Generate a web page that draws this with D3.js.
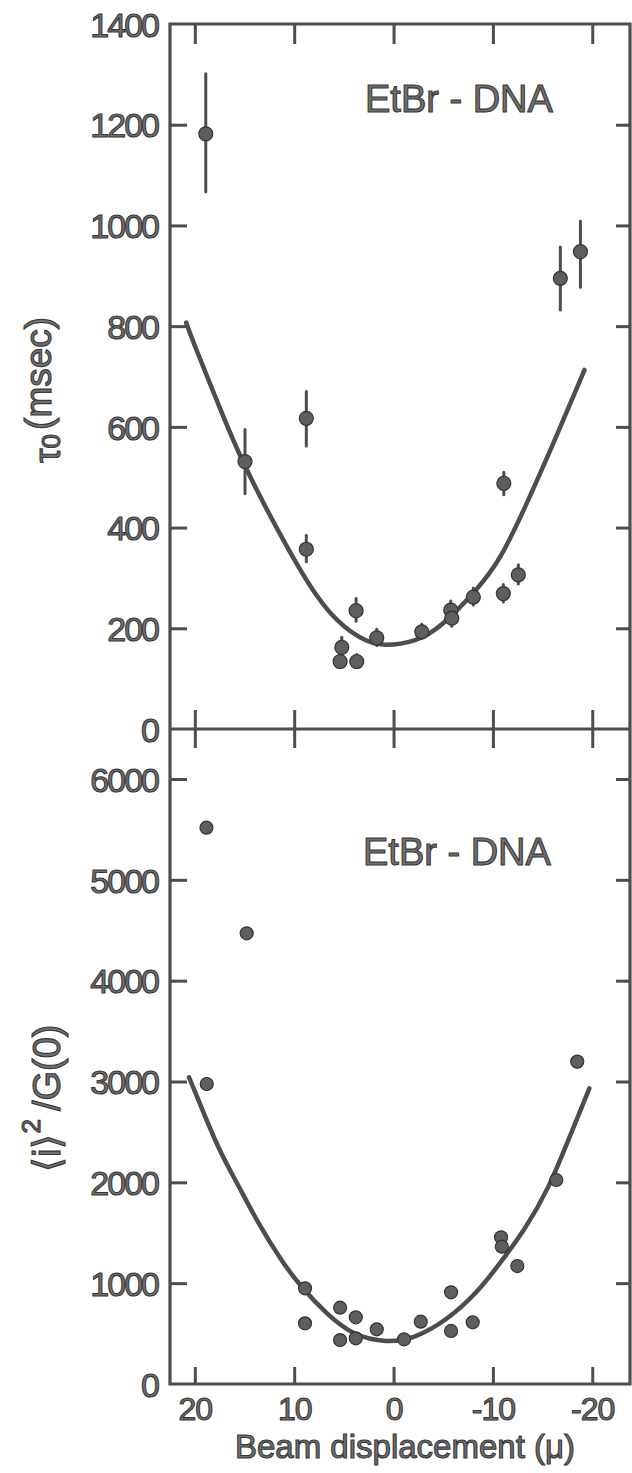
<!DOCTYPE html>
<html><head><meta charset="utf-8">
<script src="https://cdn.jsdelivr.net/npm/d3@7/dist/d3.min.js"></script>
<style>
html,body{margin:0;padding:0;background:#fff;}
svg{display:block;}
.lbl{font-family:"Liberation Sans",Arial,sans-serif;fill:#707070;stroke:#383838;stroke-width:1.1px;}
</style></head>
<body>
<svg id="chart" width="632" height="1473"></svg>
<script>
// ---- data ----
const xTicks = [20, 10, 0, -10, -20];
const xTickLabels = ["20", "10", "0", "-10", "-20"];
const yTopTicks = [200, 400, 600, 800, 1000, 1200];
const yTopLabels = [0, 200, 400, 600, 800, 1000, 1200, 1400];
const yBotTicks = [1000, 2000, 3000, 4000, 5000, 6000];
const yBotLabels = [0, 1000, 2000, 3000, 4000, 5000, 6000];

// top panel: tau_0 (msec) with error bars
const tauX  = [18.9, 14.95, 8.78, 8.78, 3.77, 5.21, 5.38, 3.70, 1.69, -2.84, -5.76, -5.86, -8.03, -11.1, -11.05, -12.56, -16.79, -18.81];
const tauY  = [1182, 531, 617, 357, 235, 162, 134, 134, 181, 193, 236, 220, 262, 488, 269, 306, 895, 948];
const tauLo = [1067, 467, 562, 332, 214, 145, 122, 122, 166, 180, 218, 204, 246, 465, 252, 288, 832, 877];
const tauHi = [1301, 595, 670, 385, 259, 182, 148, 148, 198, 208, 254, 238, 280, 510, 287, 326, 957, 1009];

// top fitted curve
const tauFitX = [20.87, 20.2, 17.80, 15.78, 12.76, 11.09, 9.41, 7.73, 5.72, 3.04, 1.03, -2.34, -4.68, -8.71, -10.72, -13.14, -16.38, -19.22];
const tauFitY = [807, 770, 653, 554, 435, 375, 316, 263, 213, 175, 164, 174, 200, 283, 336, 435, 580, 713];

// bottom panel: <i>^2/G(0)
const iX = [18.83, 14.78, -18.49, 18.80, 8.91, 8.91, 5.38, 5.38, 3.80, 3.80, 1.69, -1.06, -2.74, -5.79, -5.79, -7.97, -10.82, -10.90, -12.46, -16.38];
const iY = [5517, 4470, 3197, 2975, 949, 602, 757, 436, 661, 453, 542, 443, 618, 909, 526, 612, 1455, 1362, 1170, 2023];

// bottom fitted curve
const iFitX = [20.58, 19.9, 17.6, 15.78, 13.64, 11.21, 9.41, 6.72, 4.05, 0.68, -1.99, -5.35, -8.37, -10.72, -13.2, -15.57, -18.0, -19.71];
const iFitY = [3042, 2880, 2320, 2000, 1594, 1210, 975, 690, 480, 410, 445, 630, 900, 1197, 1530, 1924, 2519, 2932];

// ---- layout ----
const L = 170, R = 630, T = 24, M = 729, B = 1384;
const ink = "#4d4d4d";

const svg = d3.select("#chart");
const x = d3.scaleLinear().domain([22.5, -23.8]).range([L, R]);
const yT = d3.scaleLinear().domain([0, 1400]).range([M, T]);
const yB = d3.scaleLinear().domain([0, 6000]).range([B, 779]);

function styleAxis(g){
  g.select(".domain").remove();
  g.selectAll(".tick line").attr("stroke", ink).attr("stroke-width", 3);
}

// frame
svg.append("path")
  .attr("d", `M${L},${T}H${R}V${B}H${L}Z M${L},${M}H${R}`)
  .attr("fill", "none").attr("stroke", ink).attr("stroke-width", 3.2);

// x ticks: top (inward), middle (both sides), bottom (inward)
svg.append("g").attr("transform", `translate(0,${T})`)
  .call(d3.axisBottom(x).tickValues(xTicks).tickSize(20).tickFormat("")).call(styleAxis);
svg.append("g").attr("transform", `translate(0,${M})`)
  .call(d3.axisBottom(x).tickValues(xTicks).tickSize(19).tickFormat("")).call(styleAxis);
svg.append("g").attr("transform", `translate(0,${M})`)
  .call(d3.axisTop(x).tickValues(xTicks).tickSize(19).tickFormat("")).call(styleAxis);
svg.append("g").attr("transform", `translate(0,${B})`)
  .call(d3.axisTop(x).tickValues(xTicks).tickSize(17).tickFormat("")).call(styleAxis);

// y ticks inward on left & right
[[yT, yTopTicks], [yB, yBotTicks]].forEach(([sc, tv]) => {
  svg.append("g").attr("transform", `translate(${L},0)`)
    .call(d3.axisRight(sc).tickValues(tv).tickSize(17).tickFormat("")).call(styleAxis);
  svg.append("g").attr("transform", `translate(${R},0)`)
    .call(d3.axisLeft(sc).tickValues(tv).tickSize(14).tickFormat("")).call(styleAxis);
});

// y tick labels
function labelAxis(sc, vals){
  const g = svg.append("g").attr("transform", `translate(${L},0)`)
    .call(d3.axisLeft(sc).tickValues(vals).tickSize(0).tickPadding(12).tickFormat(d3.format("d")));
  g.select(".domain").remove();
  g.selectAll(".tick text").attr("class", "lbl").attr("font-size", 34)
    .attr("letter-spacing", "-2px").attr("dy", "0.36em");
}
labelAxis(yT, yTopLabels);
labelAxis(yB, yBotLabels);

// x tick labels
const gx = svg.append("g").attr("transform", `translate(0,${B})`)
  .call(d3.axisBottom(x).tickValues(xTicks).tickSize(0).tickPadding(13)
    .tickFormat((d, i) => xTickLabels[i]));
gx.select(".domain").remove();
gx.selectAll(".tick text").attr("class", "lbl").attr("font-size", 32).attr("letter-spacing", "-1px");

// fitted curves
const line = (sc) => d3.line().x(d => x(d[0])).y(d => sc(d[1])).curve(d3.curveBasis);
svg.append("path").datum(tauFitX.map((v, i) => [v, tauFitY[i]]))
  .attr("d", line(yT)).attr("fill", "none").attr("stroke", ink).attr("stroke-width", 4.5)
  .attr("stroke-linecap", "round");
svg.append("path").datum(iFitX.map((v, i) => [v, iFitY[i]]))
  .attr("d", line(yB)).attr("fill", "none").attr("stroke", ink).attr("stroke-width", 4.5)
  .attr("stroke-linecap", "round");

// top points with error bars
const tau = tauX.map((v, i) => ({x: v, y: tauY[i], lo: tauLo[i], hi: tauHi[i]}));
svg.append("g").selectAll("line").data(tau).join("line")
  .attr("x1", d => x(d.x)).attr("x2", d => x(d.x))
  .attr("y1", d => yT(d.lo)).attr("y2", d => yT(d.hi))
  .attr("stroke", ink).attr("stroke-width", 3).attr("stroke-linecap", "round");
svg.append("g").selectAll("circle").data(tau).join("circle")
  .attr("cx", d => x(d.x)).attr("cy", d => yT(d.y)).attr("r", 7)
  .attr("fill", "#5e5e5e").attr("stroke", "#333").attr("stroke-width", 1.2);

// bottom points
svg.append("g").selectAll("circle").data(iX.map((v, i) => [v, iY[i]])).join("circle")
  .attr("cx", d => x(d[0])).attr("cy", d => yB(d[1])).attr("r", 6.5)
  .attr("fill", "#5e5e5e").attr("stroke", "#333").attr("stroke-width", 1.2);

// panel labels
svg.append("text").attr("class", "lbl").attr("x", 365).attr("y", 112)
  .attr("font-size", 38).text("EtBr - DNA");
svg.append("text").attr("class", "lbl").attr("x", 363).attr("y", 865)
  .attr("font-size", 38).text("EtBr - DNA");

// x axis title
svg.append("text").attr("class", "lbl").attr("x", 405).attr("y", 1458)
  .attr("text-anchor", "middle").attr("font-size", 33).text("Beam displacement (μ)");

// y axis titles (rotated)
const t1 = svg.append("text").attr("class", "lbl")
  .attr("transform", "translate(60,463) rotate(-90)").attr("font-size", 37);
t1.append("tspan").text("τ");
t1.append("tspan").attr("font-size", 26).text("0");
t1.append("tspan").attr("dy", -9).attr("dx", 4).text("(msec)");

const t2 = svg.append("text").attr("class", "lbl")
  .attr("transform", "translate(60,1172) rotate(-90)").attr("font-size", 38);
t2.append("tspan").text("⟨i⟩");
t2.append("tspan").attr("font-size", 26).attr("dy", -20).text("2");
t2.append("tspan").attr("dy", 20).attr("dx", 8).text("/G(0)");
</script>
</body></html>
